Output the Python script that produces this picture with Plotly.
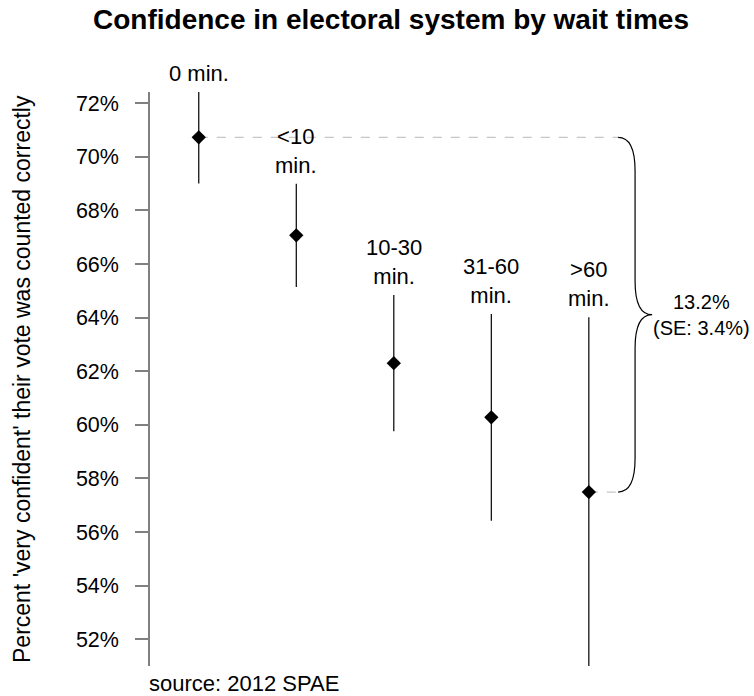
import plotly.graph_objects as go

# ---- data ----
categories = ["0 min.", "<10\nmin.", "10-30\nmin.", "31-60\nmin.", ">60\nmin."]
positions = [1, 2, 3, 4, 5]
values = [70.73, 67.07, 62.30, 60.28, 57.49]
errors = [1.72, 1.93, 2.54, 3.86, 6.52]
tick_vals = [52, 54, 56, 58, 60, 62, 64, 66, 68, 70, 72]
tick_text = ["52%", "54%", "56%", "58%", "60%", "62%", "64%", "66%", "68%", "70%", "72%"]
diff_label = "13.2%\n(SE: 3.4%)"
title_text = "Confidence in electoral system by wait times"
ytitle_text = "Percent 'very confident' their vote was counted correctly"
source_text = "source: 2012 SPAE"

YMIN, YMAX = 51.0, 72.42
XMIN, XMAX = 0.5, 6.55
FONT = "Liberation Sans, Arial, sans-serif"


def fmt(s):
    return s.replace("&", "&amp;").replace("<", "&lt;").replace(">", "&gt;").replace("\n", "<br>")


fig = go.Figure()

fig.add_trace(go.Scatter(
    x=positions, y=values, mode="markers",
    marker=dict(symbol="diamond", size=11, color="black"),
    error_y=dict(type="data", array=errors, symmetric=True, color="black",
                 thickness=1.2, width=0),
    showlegend=False, hoverinfo="skip",
))

# category labels above the error bars
for x, v, e, lab in zip(positions, values, errors, categories):
    fig.add_annotation(x=x, y=min(v + e, YMAX), xref="x", yref="y", text=fmt(lab),
                       showarrow=False, yanchor="bottom", xanchor="center", yshift=4,
                       font=dict(family=FONT, size=22, color="black"))

# brace between first and last
top, bot = values[0], values[-1]
mid = (top + bot) / 2
x0, x1, x2 = 5.30, 5.474, 5.649
h = 1.25
path = (f"M {x0},{top} Q {x1},{top} {x1},{top - h} L {x1},{mid + h} "
        f"Q {x1},{mid} {x2},{mid} Q {x1},{mid} {x1},{mid - h} "
        f"L {x1},{bot + h} Q {x1},{bot} {x0},{bot}")
fig.add_shape(type="path", path=path, xref="x", yref="y",
              line=dict(color="black", width=1.2))

# dashed guide lines
fig.add_shape(type="line", x0=positions[0], x1=x0, y0=top, y1=top, xref="x", yref="y",
              line=dict(color="#b8b8b8", width=1, dash="dash"), layer="below")
fig.add_shape(type="line", x0=positions[-1], x1=x0, y0=bot, y1=bot, xref="x", yref="y",
              line=dict(color="#b8b8b8", width=1, dash="dash"), layer="below")

fig.add_annotation(x=6.16, y=mid, xref="x", yref="y", text=fmt(diff_label),
                   showarrow=False, xanchor="center", yanchor="middle",
                   font=dict(family=FONT, size=20, color="black"))

# y-axis title
fig.add_annotation(x=0, y=0.5, xref="paper", yref="paper", text=ytitle_text,
                   textangle=-90, showarrow=False, xanchor="center", yanchor="middle",
                   xshift=-128, font=dict(family=FONT, size=23, color="black"))

# source
fig.add_annotation(x=0, y=0, xref="paper", yref="paper", text=source_text,
                   showarrow=False, xanchor="left", yanchor="middle",
                   xshift=-3, yshift=-17, font=dict(family=FONT, size=22, color="black"))

fig.update_layout(
    width=754, height=696,
    margin=dict(l=150, r=14, t=92, b=30),
    paper_bgcolor="white", plot_bgcolor="white",
    title=dict(text=f"<b>{title_text}</b>", x=391 / 754, xanchor="center",
               xref="container", yref="container", y=1 - 19 / 696, yanchor="middle",
               font=dict(family=FONT, size=28, color="black")),
    xaxis=dict(range=[XMIN, XMAX], visible=False, showgrid=False, zeroline=False),
    yaxis=dict(range=[YMIN, YMAX], tickvals=tick_vals, ticktext=tick_text,
               showgrid=False, zeroline=False, showline=True, linecolor="#808080",
               linewidth=1.5, ticks="outside", ticklen=13, tickcolor="#808080",
               tickwidth=1.5, ticklabelstandoff=12,
               tickfont=dict(family=FONT, size=21.5, color="black")),
)

fig.write_html("out.html", config={"displayModeBar": False},
               post_script="document.body.style.margin='0';")
